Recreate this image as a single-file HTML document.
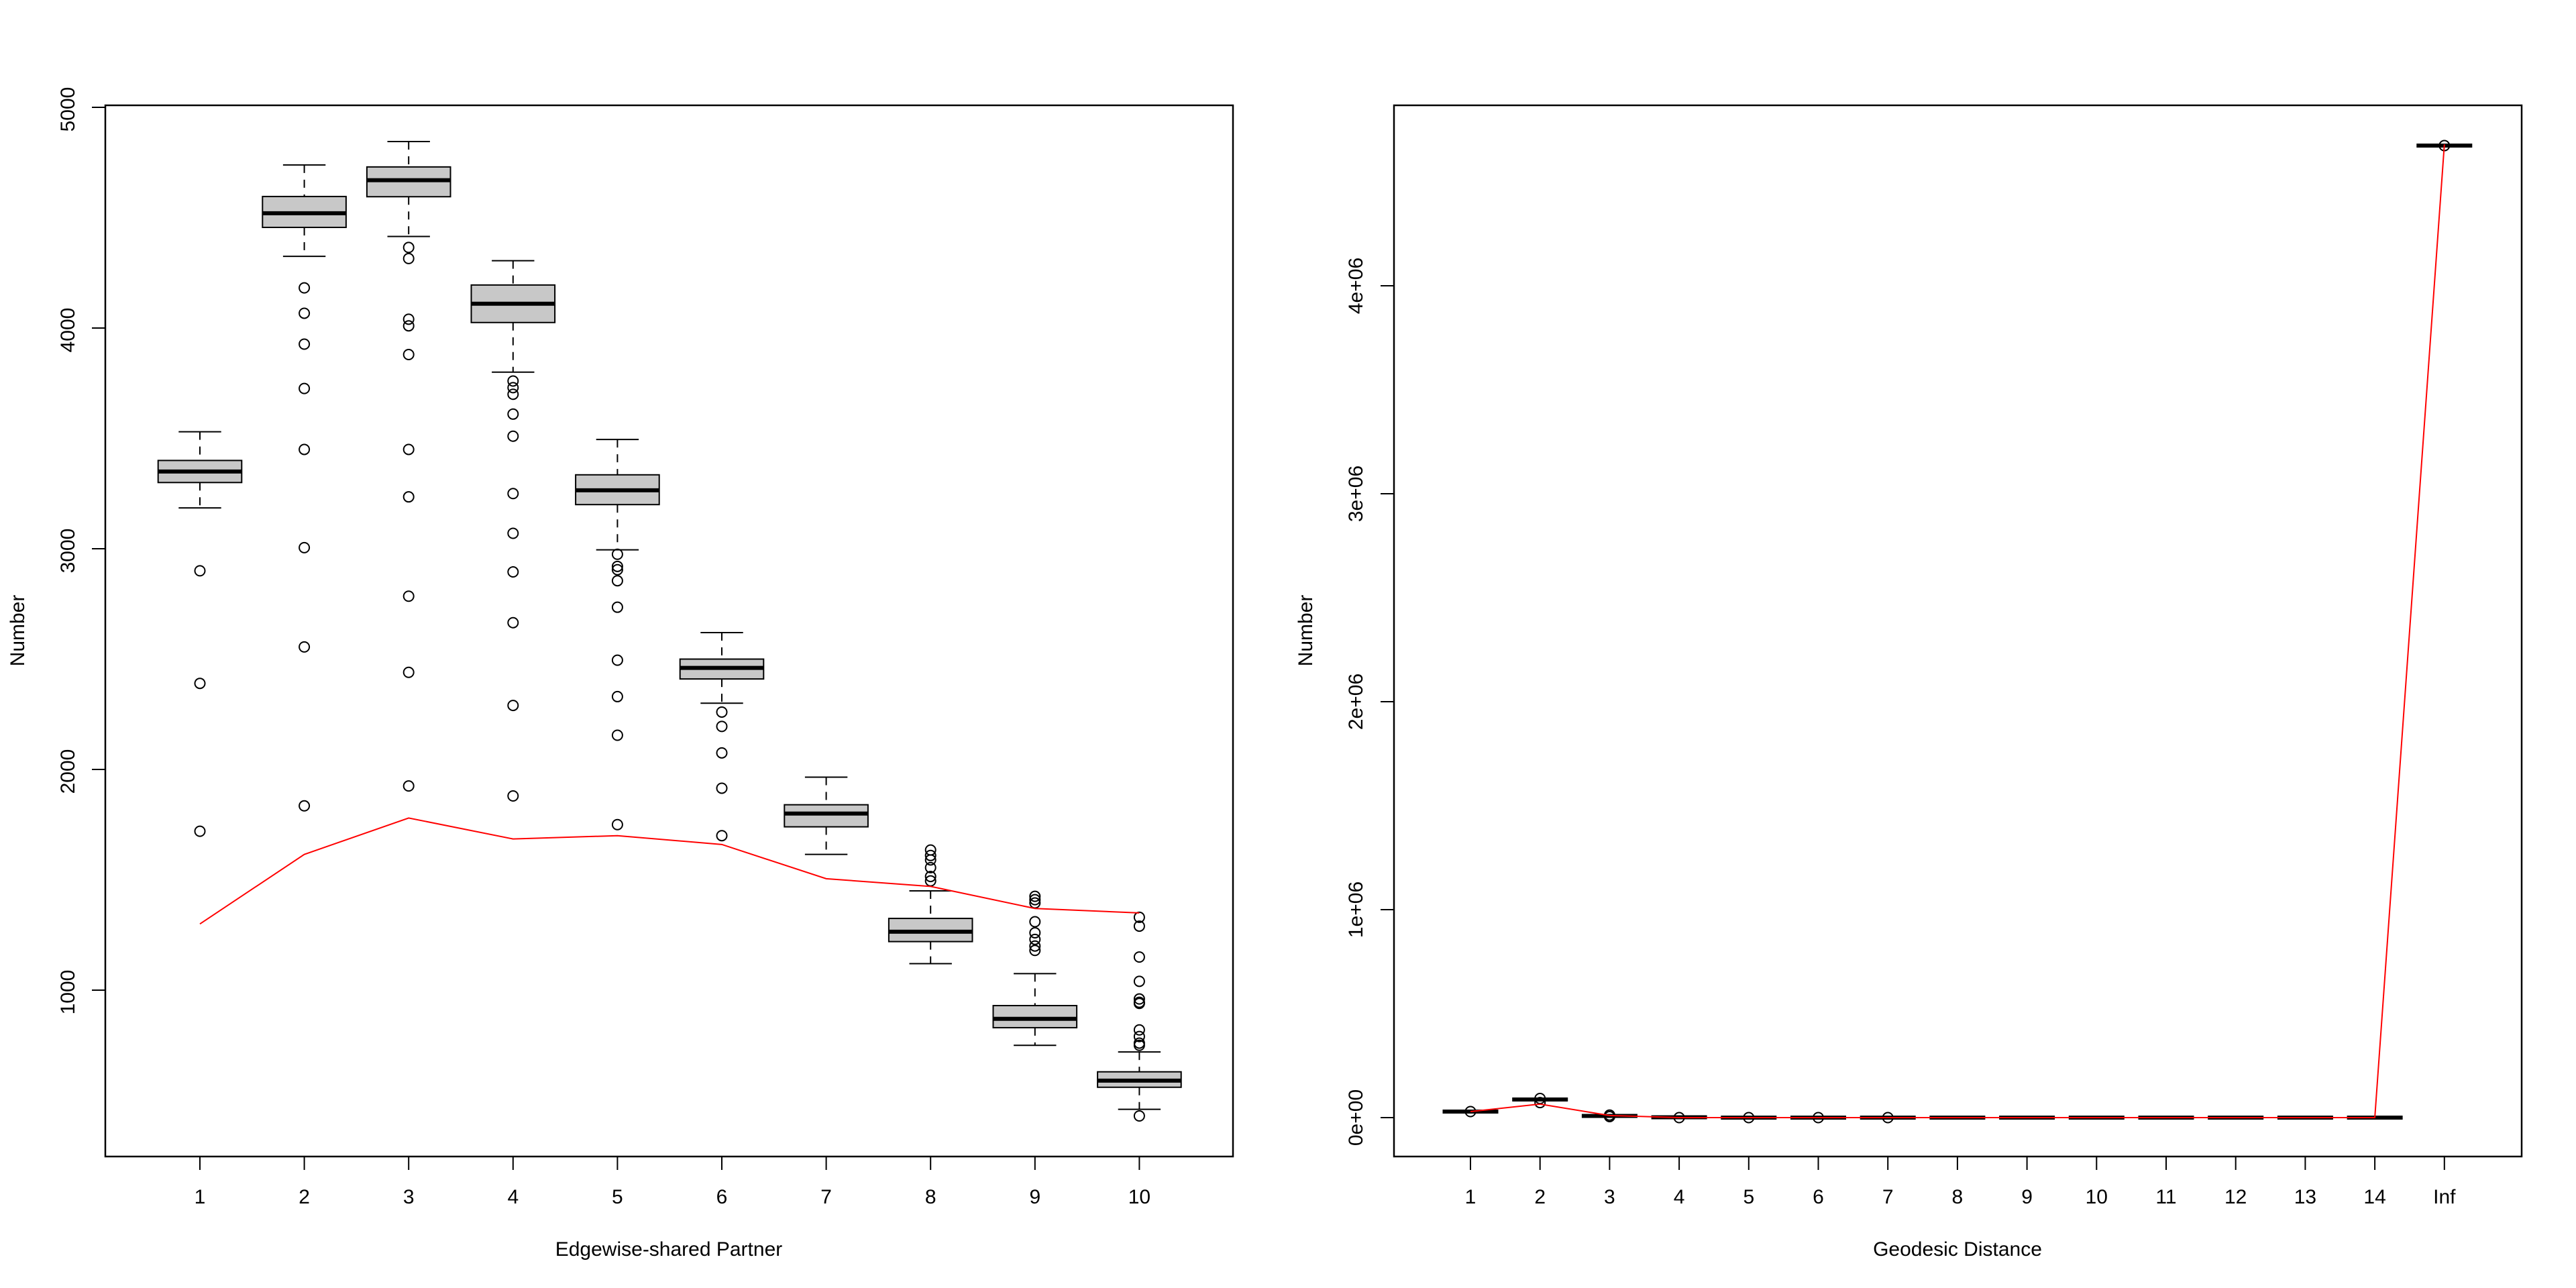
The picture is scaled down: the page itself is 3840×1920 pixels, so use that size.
<!DOCTYPE html>
<html><head><meta charset="utf-8"><style>
html,body{margin:0;padding:0;background:#fff}
svg{display:block}
text{font-family:"Liberation Sans",Arial,sans-serif;font-size:30px;fill:#000}
</style></head><body>
<svg id="s" width="3840" height="1920" viewBox="0 0 3840 1920" xmlns="http://www.w3.org/2000/svg">
<rect width="3840" height="1920" fill="#fff"/>
<g id="g"></g>
<g text-anchor="middle">
<text x="298" y="1794">1</text><text x="453.6" y="1794">2</text><text x="609.2" y="1794">3</text><text x="764.8" y="1794">4</text><text x="920.4" y="1794">5</text><text x="1076" y="1794">6</text><text x="1231.6" y="1794">7</text><text x="1387.2" y="1794">8</text><text x="1542.8" y="1794">9</text><text x="1698.4" y="1794">10</text>
<text transform="translate(111,163) rotate(-90)">5000</text>
<text transform="translate(111,492) rotate(-90)">4000</text>
<text transform="translate(111,821) rotate(-90)">3000</text>
<text transform="translate(111,1150) rotate(-90)">2000</text>
<text transform="translate(111,1479) rotate(-90)">1000</text>
<text x="997" y="1872">Edgewise-shared Partner</text>
<text transform="translate(36,940) rotate(-90)">Number</text>
<text x="2192" y="1794">1</text><text x="2295.7" y="1794">2</text><text x="2399.4" y="1794">3</text><text x="2503.1" y="1794">4</text><text x="2606.8" y="1794">5</text><text x="2710.5" y="1794">6</text><text x="2814.2" y="1794">7</text><text x="2917.9" y="1794">8</text><text x="3021.6" y="1794">9</text><text x="3125.3" y="1794">10</text><text x="3229" y="1794">11</text><text x="3332.7" y="1794">12</text><text x="3436.4" y="1794">13</text><text x="3540.1" y="1794">14</text><text x="3643.8" y="1794">Inf</text>
<text transform="translate(2031,1666) rotate(-90)">0e+00</text>
<text transform="translate(2031,1356) rotate(-90)">1e+06</text>
<text transform="translate(2031,1046) rotate(-90)">2e+06</text>
<text transform="translate(2031,736) rotate(-90)">3e+06</text>
<text transform="translate(2031,426) rotate(-90)">4e+06</text>
<text x="2918" y="1872">Geodesic Distance</text>
<text transform="translate(1956,940) rotate(-90)">Number</text>
</g>
</svg>
<script>
(function(){
var g=document.getElementById('g'),h='';
function ln(x1,y1,x2,y2,w,c,d){h+='<line x1="'+x1+'" y1="'+y1+'" x2="'+x2+'" y2="'+y2+'" stroke="'+(c||'#000')+'" stroke-width="'+(w||2)+'"'+(d?' stroke-dasharray="'+d+'"':'')+'/>';}
function circ(x,y){h+='<circle cx="'+x+'" cy="'+y+'" r="7.5" fill="none" stroke="#000" stroke-width="2"/>';}
var LX=function(i){return 298+(i-1)*155.6},LY=function(v){return 1476-(v-1000)*0.329};
h+='<rect x="157" y="157" width="1681" height="1567" fill="none" stroke="#000" stroke-width="2.5"/>';
for(var i=1;i<=10;i++)ln(LX(i),1724,LX(i),1744);
[5000,4000,3000,2000,1000].forEach(function(v){ln(137,LY(v),157,LY(v))});
var B=[
[3530,3400,3350,3300,3185,[2900,2390,1720]],
[4739,4596,4520,4456,4325,[4182,4067,3927,3726,3450,3005,2555,1835]],
[4845,4730,4670,4595,4415,[4365,4315,4040,4010,3880,3450,3235,2785,2440,1925]],
[4305,4195,4110,4025,3800,[3760,3730,3700,3610,3510,3250,3070,2895,2665,2290,1880]],
[3495,3335,3265,3200,2995,[2975,2920,2905,2855,2735,2495,2330,2155,1750]],
[2620,2500,2460,2410,2300,[2260,2195,2075,1915,1700]],
[1965,1840,1800,1740,1615,[]],
[1450,1325,1265,1220,1120,[1635,1610,1590,1555,1515,1495]],
[1075,930,870,830,750,[1425,1410,1395,1310,1260,1230,1200,1180]],
[720,630,590,560,460,[1330,1290,1150,1040,960,945,940,820,790,760,750,430]]];
B.forEach(function(b,k){var x=LX(k+1);
ln(x,LY(b[0]),x,LY(b[1]),2,'#000','12 10');ln(x,LY(b[3]),x,LY(b[4]),2,'#000','12 10');
ln(x-31.7,LY(b[0]),x+31.7,LY(b[0]));ln(x-31.7,LY(b[4]),x+31.7,LY(b[4]));
h+='<rect x="'+(x-62.3)+'" y="'+LY(b[1])+'" width="124.6" height="'+(LY(b[3])-LY(b[1]))+'" fill="#c8c8c8" stroke="#000" stroke-width="2"/>';
ln(x-62.3,LY(b[2]),x+62.3,LY(b[2]),6);
b[5].forEach(function(v){circ(x,LY(v))});});
var R=[1300,1615,1780,1685,1700,1660,1505,1470,1370,1350],p=[];
R.forEach(function(v,k){p.push(LX(k+1)+','+LY(v))});
h+='<polyline points="'+p.join(' ')+'" fill="none" stroke="#f00" stroke-width="2"/>';
var RX=function(i){return 2192+(i-1)*103.7},RY=function(v){return 1666-v*310e-6};
h+='<rect x="2078" y="157" width="1681" height="1567" fill="none" stroke="#000" stroke-width="2.5"/>';
for(i=1;i<=15;i++)ln(RX(i),1724,RX(i),1744);
for(i=0;i<=4;i++)ln(2058,RY(i*1e6),2078,RY(i*1e6));
var M=[29000,87000,8000,1500,0,0,0,0,0,0,0,0,0,0,4674000];
M.forEach(function(v,k){var x=RX(k+1);ln(x-41.5,RY(v),x+41.5,RY(v),6);});
circ(RX(1),RY(29000));circ(RX(2),RY(92000));circ(RX(2),RY(72000));circ(RX(3),RY(12000));circ(RX(3),RY(5000));
for(i=4;i<=7;i++)circ(RX(i),RY(0));circ(RX(15),RY(4674000));
var RR=[29000,65000,10000,0,0,0,0,0,0,0,0,0,0,0,4680000];p=[];
RR.forEach(function(v,k){p.push(RX(k+1)+','+RY(v))});
h+='<polyline points="'+p.join(' ')+'" fill="none" stroke="#f00" stroke-width="2"/>';
g.innerHTML=h;
})();
</script>
</body></html>
